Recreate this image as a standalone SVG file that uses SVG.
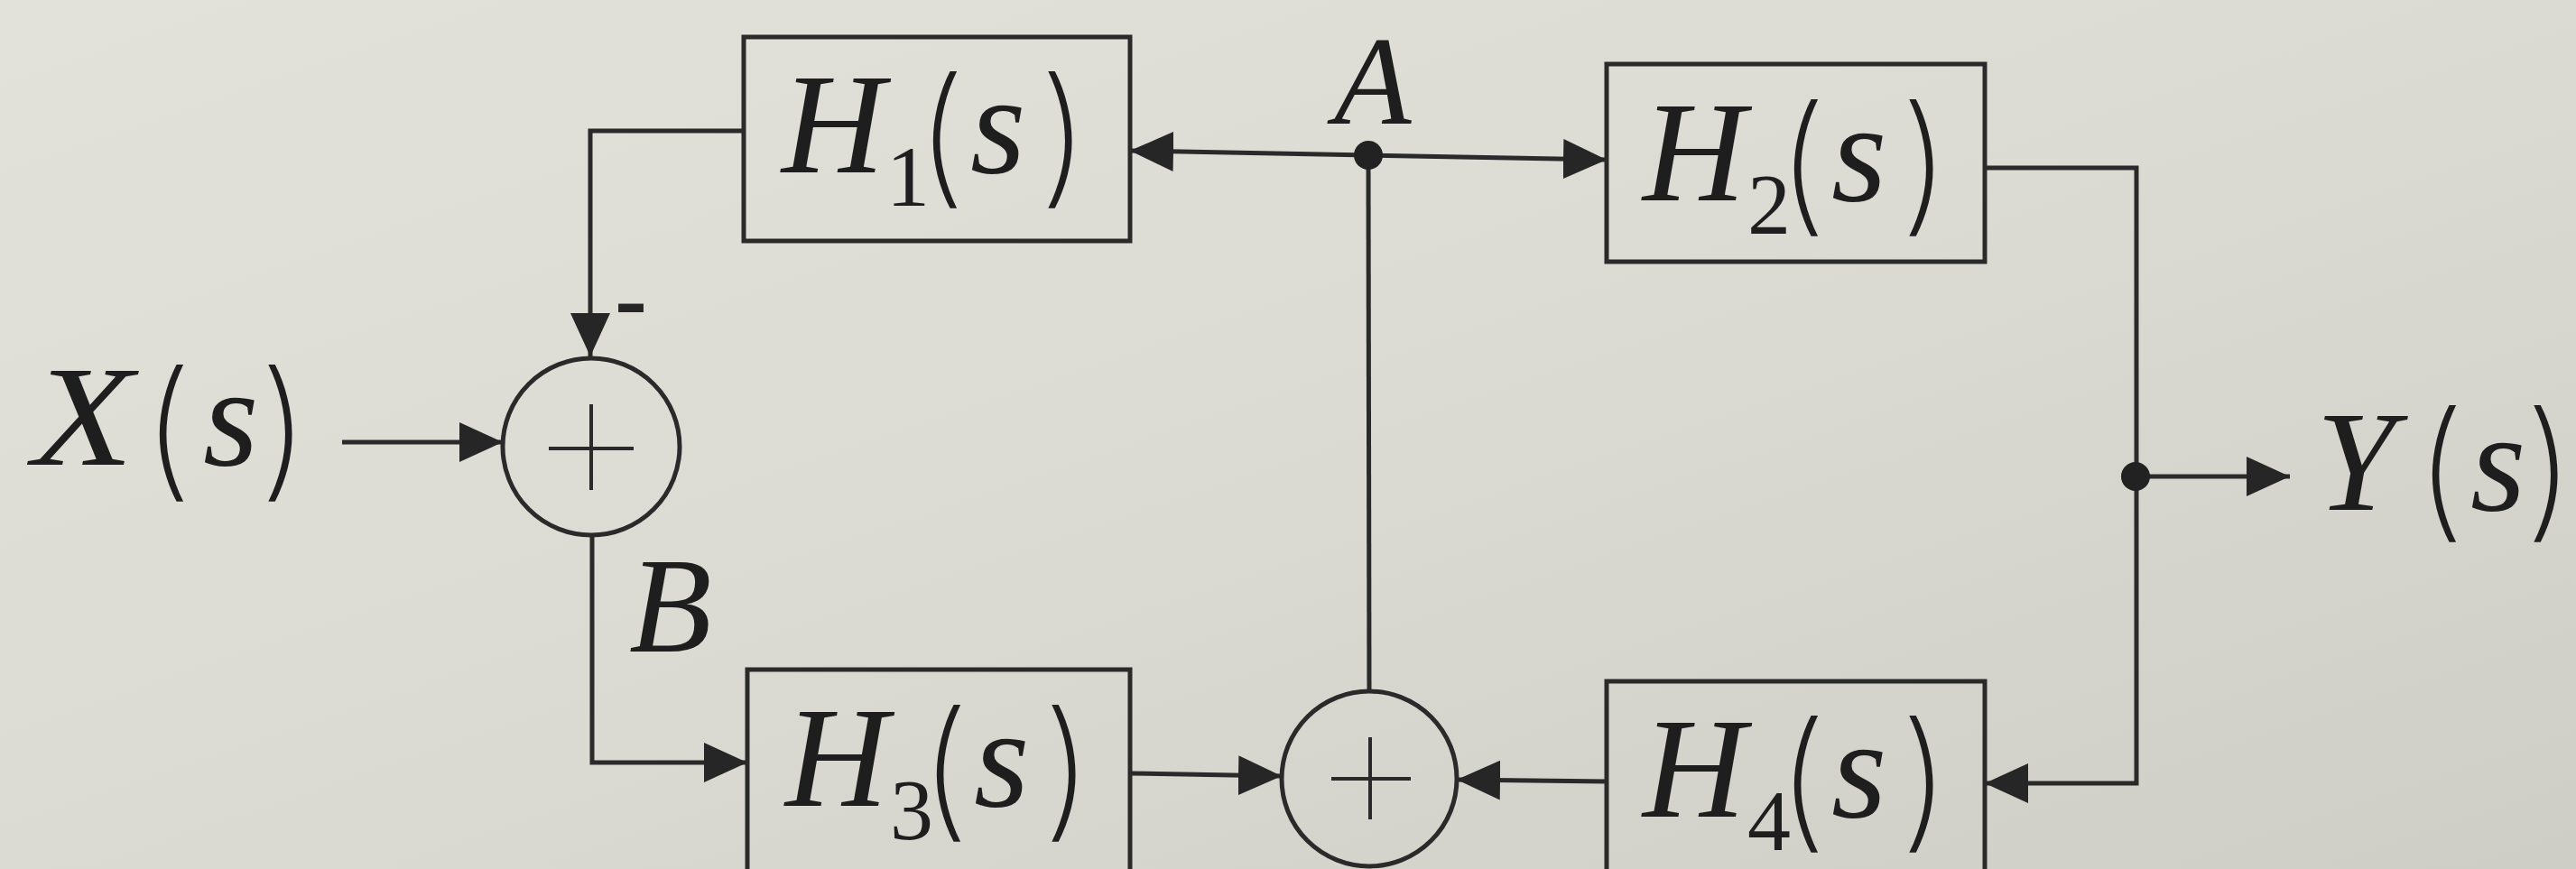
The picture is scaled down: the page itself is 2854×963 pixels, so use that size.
<svg xmlns="http://www.w3.org/2000/svg" width="2854" height="963" viewBox="0 0 2854 963">
<defs>
  <linearGradient id="bg" x1="0" y1="0" x2="1" y2="1">
    <stop offset="0" stop-color="#e2e1da"/>
    <stop offset="0.5" stop-color="#dcdbd3"/>
    <stop offset="1" stop-color="#cfcec6"/>
  </linearGradient>
  <marker id="arr" markerUnits="userSpaceOnUse" markerWidth="48" markerHeight="44" refX="48" refY="22" orient="auto" viewBox="0 0 48 44">
    <path d="M0,0 L48,22 L0,44 Z" fill="#262626"/>
  </marker>
  <style>
    .blk { fill: none; stroke: #2a2a2a; stroke-width: 5; }
    .sum { fill: none; stroke: #2a2a2a; stroke-width: 5; }
    .plus { stroke: #2a2a2a; stroke-width: 4; fill: none; }
    .wire { fill: none; stroke: #2a2a2a; stroke-width: 5; }
    .arrow { marker-end: url(#arr); }
    .dot { fill: #222; }
    .lbl { font-family: "Liberation Serif", "Times New Roman", serif; fill: #1e1e1e; }
    .it { font-style: italic; font-size: 158px; }
    .s { font-style: italic; font-size: 158px; }
    .up { font-family: Inter, "DejaVu Sans", sans-serif; font-weight: 200; font-style: normal; font-size: 167px; }
    .sub { font-style: normal; font-size: 96px; }
    .sgn { font-family: "Liberation Sans", Arial, sans-serif; font-size: 120px; fill: #262626; }
  </style>
</defs>
<rect x="0" y="0" width="2854" height="963" fill="url(#bg)"/>

<g id="connectors">
  <line class="wire arrow" x1="379" y1="490" x2="557" y2="490"/>
  <path class="wire arrow" d="M824,145 H654 V395"/>
  <line class="wire arrow" x1="1516" y1="172" x2="1252" y2="167"/>
  <line class="wire arrow" x1="1516" y1="172" x2="1780" y2="177"/>
  <line class="wire" x1="1516" y1="172" x2="1517" y2="766"/>
  <path class="wire arrow" d="M2199,186 H2367 V868 H2199"/>
  <line class="wire arrow" x1="2366" y1="528" x2="2537" y2="528"/>
  <line class="wire arrow" x1="1780" y1="866" x2="1614" y2="864"/>
  <line class="wire arrow" x1="1252" y1="857" x2="1420" y2="860"/>
  <path class="wire arrow" d="M656,593 V845 H828"/>
  <circle class="dot" cx="1516" cy="172" r="16"/>
  <circle class="dot" cx="2366" cy="528" r="16"/>
</g>

<g id="X">
  <text class="lbl it" x="36" y="515" font-size="162" textLength="112" lengthAdjust="spacingAndGlyphs">X</text>
  <text class="lbl" y="515"><tspan class="up" x="158" y="533">(</tspan><tspan class="s" x="225" y="515">s</tspan><tspan class="up" x="287" y="533">)</tspan></text>
</g>

<g id="Y">
  <text class="lbl" y="565"><tspan class="it" x="2566" font-size="162">Y</tspan><tspan class="up" x="2676" y="578">(</tspan><tspan class="s" x="2737" y="565">s</tspan><tspan class="up" x="2797" y="578">)</tspan></text>
</g>

<g id="sum1">
  <circle class="sum" cx="655" cy="495" r="98"/>
  <path class="plus" d="M608,497 H702 M655,448 V543"/>
  <text class="sgn" x="680" y="373" textLength="38" lengthAdjust="spacingAndGlyphs">-</text>
</g>

<g id="sum2">
  <circle class="sum" cx="1517" cy="863" r="97"/>
  <path class="plus" d="M1475,863 H1563 M1518,817 V908"/>
</g>

<g id="H1">
  <rect class="blk" x="824" y="41" width="428" height="226"/>
  <text class="lbl" y="191"><tspan class="it" x="866">H</tspan><tspan class="sub" x="982" y="228">1</tspan><tspan class="up" x="1015" y="208">(</tspan><tspan class="s" x="1075" y="191">s</tspan><tspan class="up" x="1151" y="208">)</tspan></text>
</g>

<g id="H2">
  <rect class="blk" x="1780" y="71" width="419" height="219"/>
  <text class="lbl" y="222"><tspan class="it" x="1820">H</tspan><tspan class="sub" x="1936" y="259">2</tspan><tspan class="up" x="1969" y="239">(</tspan><tspan class="s" x="2029" y="222">s</tspan><tspan class="up" x="2105" y="239">)</tspan></text>
</g>

<g id="H3">
  <rect class="blk" x="828" y="742" width="424" height="270"/>
  <text class="lbl" y="893"><tspan class="it" x="870">H</tspan><tspan class="sub" x="986" y="930">3</tspan><tspan class="up" x="1019" y="910">(</tspan><tspan class="s" x="1079" y="893">s</tspan><tspan class="up" x="1155" y="910">)</tspan></text>
</g>

<g id="H4">
  <rect class="blk" x="1780" y="755" width="419" height="260"/>
  <text class="lbl" y="905"><tspan class="it" x="1820">H</tspan><tspan class="sub" x="1936" y="942">4</tspan><tspan class="up" x="1969" y="922">(</tspan><tspan class="s" x="2029" y="905">s</tspan><tspan class="up" x="2105" y="922">)</tspan></text>
</g>

<g id="labelA">
  <text class="lbl" x="1478" y="137" font-style="italic" font-size="140">A</text>
</g>

<g id="labelB">
  <text class="lbl" x="697" y="722" font-style="italic" font-size="150">B</text>
</g>
</svg>
